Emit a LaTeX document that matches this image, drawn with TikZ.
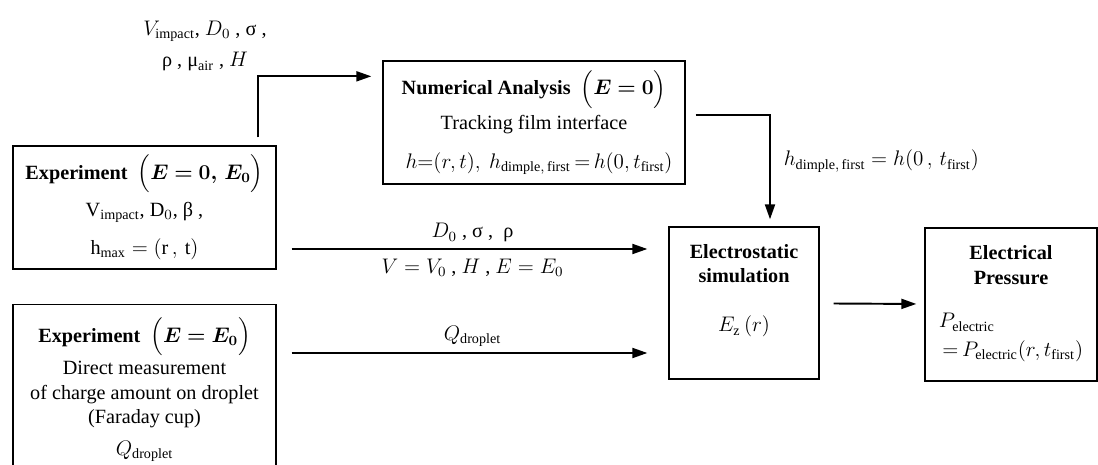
\documentclass[tikz,border=0pt]{standalone}
\usepackage{amsmath,bm}
\usepackage{fontspec}
\setmainfont{Liberation Serif}
\usetikzlibrary{arrows.meta}

\begin{document}
\begin{tikzpicture}[line width=1.1pt, >={Triangle[length=3mm,width=2mm]},
  every node/.style={font=\fontsize{11.5}{14}\selectfont},
  box/.style={draw, line width=0.75pt, align=center, inner sep=0pt}]
\useasboundingbox (0,0) rectangle (21.96,-9.3);
\node[box, minimum width=5.26cm, minimum height=2.46cm] (exp1) at (2.89,-4.15) {\textbf{Experiment}\ \ $\Big(\boldsymbol{E=0,\,E_0}\Big)$\\[4pt] $\mathrm{V}_{\mathrm{impact}}$, $\mathrm{D}_0$,\ β ,\\[8pt] $\mathrm{h}_{\max}=(\mathrm{r}\,,\,\mathrm{t})$};
\node[box, anchor=north, minimum width=5.26cm, minimum height=3.4cm] (exp2) at (2.89,-6.08) {\textbf{Experiment}\ \ $\Big(\boldsymbol{E=E_0}\Big)$\\[2pt] Direct measurement\\ of charge amount on droplet\\ (Faraday cup)\\[4pt] $Q_{\mathrm{droplet}}$};
\node[box, minimum width=6.04cm, minimum height=2.46cm] (num) at (10.68,-2.45) {\textbf{Numerical Analysis}\ \ $\Big(\boldsymbol{E=0}\Big)$\\[3pt] Tracking film interface\\[8pt] \hspace*{0.2cm}$h{=}(r, t),\ h_{\mathrm{dimple,\,first}}{\,=\,}h(0, t_{\mathrm{first}})$};
\node[box, minimum width=3cm, minimum height=3.04cm] (elec) at (14.88,-6.06) {\textbf{Electrostatic}\\ \textbf{simulation}\\[14pt] $E_{\mathrm{z}}\,(r)$\\[3pt] \mbox{}};
\node[box, minimum width=3.44cm, minimum height=3.06cm] (press) at (20.22,-6.09) {\textbf{Electrical}\\ \textbf{Pressure}\\[14pt] $\begin{array}{@{}l@{}}P_{\mathrm{electric}}\\[2pt] \,{=}\,P_{\mathrm{electric}}(r, t_{\mathrm{first}})\end{array}$};
\node[align=center] (inp) at (4.1,-0.92) {$V_{\mathrm{impact}}$, $D_0$ , σ ,\\[4pt] ρ , μ$_{\mathrm{air}}$ , $H$};
\draw[->] ([xshift=-0.38cm,yshift=0.16cm]exp1.north east) |- ([xshift=-0.22cm,yshift=-0.32cm]num.north west);
\draw[->] ([xshift=0.2cm,yshift=-1.1cm]num.north east) -| ([xshift=0.52cm,yshift=0.14cm]elec.north) node[pos=0.72, right=4pt] {$h_{\mathrm{dimple,\,first}}=h(0\,,\,t_{\mathrm{first}})$};
\draw[->, shorten <=0.3cm, shorten >=0.42cm] (exp1.east |- 0,-4.98) -- (elec.west |- 0,-4.98) node[midway, above] {$D_0$ , σ ,\ \ ρ} node[midway, below=2pt] {$V=V_0$ , $H$\ , $E=E_0$};
\draw[->, shorten <=0.3cm, shorten >=0.42cm] (exp2.east |- 0,-7.06) -- (elec.west |- 0,-7.06) node[midway, above] {$Q_{\mathrm{droplet}}$};
\draw[->, shorten <=0.28cm, shorten >=0.16cm] (elec) -- (press);
\end{tikzpicture}
\end{document}
